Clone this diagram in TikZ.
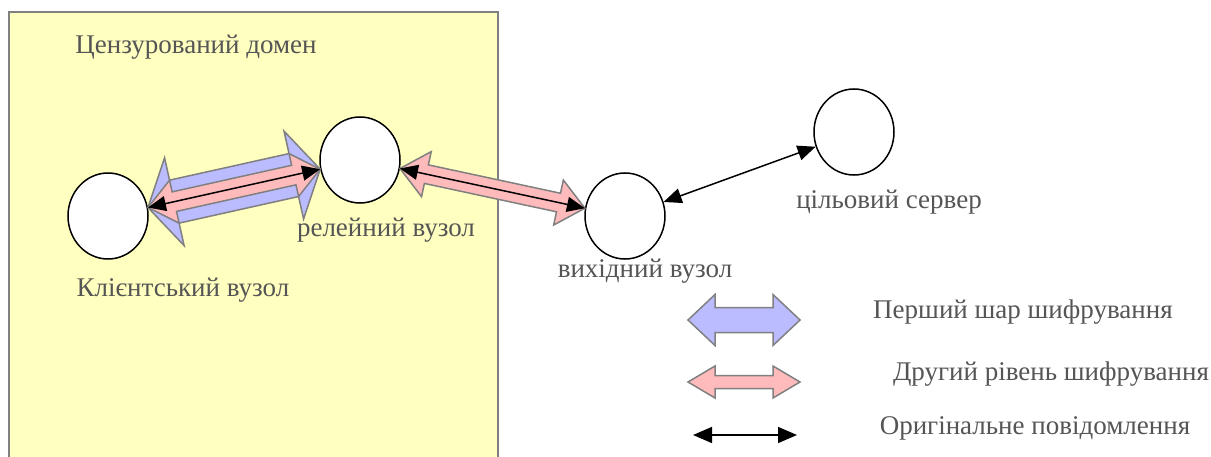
\documentclass[tikz,border=0pt]{standalone}
\usepackage{fontspec}
\setmainfont{Liberation Serif}
\newfontfamily\labelfont{Liberation Serif}
\usetikzlibrary{positioning,arrows.meta,calc,shapes.geometric}
\definecolor{DomainYellow}{RGB}{255,255,192}
\definecolor{LayerBlue}{RGB}{187,187,255}
\definecolor{LayerPink}{RGB}{255,187,187}
\definecolor{EdgeGray}{RGB}{128,128,128}
\definecolor{LabelGray}{RGB}{85,85,85}

% подвійна широка стрілка: стиль, від, до, пів-ширина тіла, пів-ширина голови, довжина голови
\newcommand{\layerarrow}[6]{%
	\draw[#1] (#2)
	-- ($(#2)!#6!(#3)!#5!90:(#3)$)
	-- ($(#2)!#6!(#3)!#4!90:(#3)$)
	-- ($(#3)!#6!(#2)!#4!-90:(#2)$)
	-- ($(#3)!#6!(#2)!#5!-90:(#2)$)
	-- (#3)
	-- ($(#3)!#6!(#2)!#5!90:(#2)$)
	-- ($(#3)!#6!(#2)!#4!90:(#2)$)
	-- ($(#2)!#6!(#3)!#4!-90:(#3)$)
	-- ($(#2)!#6!(#3)!#5!-90:(#3)$)
	-- cycle;}

\begin{document}
\begin{tikzpicture}[x=1pt,y=1pt,font=\labelfont\fontsize{27}{31}\selectfont,text=LabelGray,
	hop/.style={ellipse,draw=black,line width=1.5pt,fill=white,minimum width=80pt,minimum height=86pt,inner sep=0pt},
	msg/.style={line width=1.5pt,{Triangle[length=18pt,width=15pt]}-{Triangle[length=18pt,width=15pt]}},
	outer/.style={fill=LayerBlue,draw=EdgeGray,line width=1.5pt},
	inner/.style={fill=LayerPink,draw=EdgeGray,line width=1.5pt}]
		\useasboundingbox (0,0) rectangle (1211,456);
		\fill[white] (0,0) rectangle (1211,456);
		
		% цензурований домен
		\draw[EdgeGray,fill=DomainYellow,line width=1.5pt] (9,-10) rectangle (498,444);
		\node (domain) at (196,409) {Цензурований домен};
		
		% вузли мережі
		\node[hop] (client) at (108,240) {};
		\node[hop] (relay) at (360,296) {};
		\node[hop] (exit) at (625,240) {};
		\node[hop] (target) at (854,324) {};
		\node (clientlbl) at (183,166) {Клієнтський вузол};
		\node (relaylbl) at (386,226) {релейний вузол};
		\node (exitlbl) at (645,185) {вихідний вузол};
		\node (targetlbl) at (889,254) {цільовий сервер};
		
		\coordinate (cA) at (client.12);
		\coordinate (rA) at (relay.193);
		\coordinate (rB) at (relay.348);
		\coordinate (eA) at (exit.169);
		
		% шари шифрування
		\layerarrow{outer}{cA}{rA}{22pt}{45pt}{27pt}
		\layerarrow{inner}{cA}{rA}{10pt}{22pt}{27pt}
		\layerarrow{inner}{rB}{eA}{9.5pt}{23pt}{27pt}
		
		% повідомлення
		\draw[msg] (client.12) -- (relay.193);
		\draw[msg] (relay.348) -- (exit.169);
		\draw[msg] (exit.20) -- (target.201);
		
		% легенда
		\coordinate (k1a) at (688,136);
		\coordinate (k1b) at (800,136);
		\coordinate (k2a) at (688,74);
		\coordinate (k2b) at (800,74);
		\coordinate (k3a) at (693,21);
		\coordinate (k3b) at (797,21);
		\layerarrow{outer}{k1a}{k1b}{12.5pt}{25.5pt}{27pt}
		\layerarrow{inner}{k2a}{k2b}{6.5pt}{16pt}{27pt}
		\draw[line width=1.5pt,{Triangle[length=19pt,width=16pt]}-{Triangle[length=19pt,width=16pt]}] (k3a) -- (k3b);
		\node (key1) at (1023,144) {Перший шар шифрування};
		\node (key2) at (1051,82) {Другий рівень шифрування};
		\node (key3) at (1035,28) {Оригінальне повідомлення};
	\end{tikzpicture}
\end{document}
